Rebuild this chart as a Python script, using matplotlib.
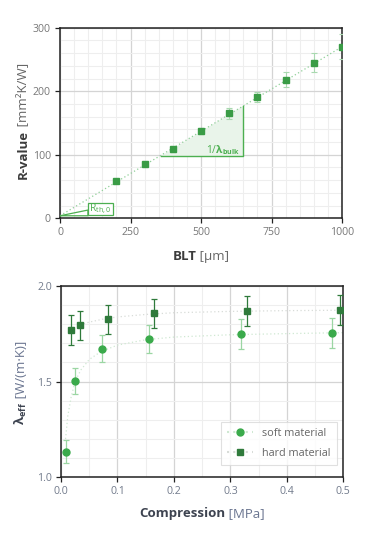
import matplotlib
matplotlib.use("Agg")
import matplotlib.pyplot as plt
from matplotlib.lines import Line2D
from matplotlib.patches import Polygon, Rectangle
from matplotlib.ticker import MultipleLocator
from matplotlib.transforms import IdentityTransform

plt.rcParams['font.family'] = ['Open Sans', 'DejaVu Sans']
plt.rcParams['mathtext.fontset'] = 'custom'
plt.rcParams['mathtext.rm'] = 'Open Sans'
plt.rcParams['mathtext.bf'] = 'Open Sans:bold'
plt.rcParams['mathtext.it'] = 'Open Sans:italic'

# top panel: R-value vs bond line thickness
blt = [200, 300, 400, 500, 600, 700, 800, 900, 1000]
r_value = [59, 86, 109, 137, 165, 191, 218, 245, 270]
r_err = [3, 3, 4, 5, 8, 8, 12, 15, 20]
fit_intercept = 4
fit_slope = 0.266
fit_x = [0, 1000]

# bottom panel: effective conductivity vs compression
soft_p = [0.008, 0.024, 0.073, 0.155, 0.318, 0.480]
soft_lam = [1.134, 1.503, 1.671, 1.72, 1.746, 1.753]
soft_err = [0.06, 0.066, 0.07, 0.073, 0.078, 0.077]
hard_p = [0.017, 0.034, 0.084, 0.165, 0.330, 0.494]
hard_lam = [1.769, 1.793, 1.824, 1.856, 1.868, 1.873]
hard_err = [0.077, 0.077, 0.077, 0.077, 0.077, 0.077]
soft_fit_p = [0.008, 0.012, 0.018, 0.025, 0.035, 0.05, 0.07, 0.1, 0.15, 0.2, 0.3, 0.4, 0.5]
soft_fit_lam = [1.20, 1.32, 1.42, 1.50, 1.56, 1.615, 1.655, 1.69, 1.718, 1.732, 1.744, 1.75, 1.755]
hard_fit_p = [0.034, 0.05, 0.075, 0.1, 0.15, 0.2, 0.3, 0.4, 0.5]
hard_fit_lam = [1.797, 1.81, 1.826, 1.837, 1.85, 1.859, 1.866, 1.87, 1.872]

green = "#3a9c46"
soft_c = "#3aaa4b"
hard_c = "#2f7a3b"
light = "#a9d9b0"
tick_c = "#777777"
frame_c = "#222222"

fig = plt.figure(figsize=(3.75, 5.52), dpi=100)
ax1 = fig.add_axes([0.160, 0.6045, 0.752, 0.3453])
ax2 = fig.add_axes([0.1627, 0.1353, 0.7528, 0.3471])


def style(ax, tc):
    ax.set_axisbelow(True)
    ax.grid(which='major', color='#d4d4d4', lw=0.9)
    ax.grid(which='minor', color='#eeeeee', lw=0.8)
    for s in ax.spines.values():
        s.set_color(frame_c)
        s.set_linewidth(1.1)
    ax.tick_params(which='major', direction='out', length=3.5, width=0.9,
                   color=frame_c, labelsize=7.6, labelcolor=tc, pad=3)
    ax.tick_params(which='minor', length=0)


# ---- top
ax1.errorbar(blt, r_value, yerr=r_err, fmt='s', ms=4.2, color=green,
             ecolor=light, elinewidth=0.8, capsize=2.5, capthick=0.8, zorder=4)
fy = [fit_intercept + fit_slope * x for x in fit_x]
ax1.plot(fit_x, fy, ls=(0, (1, 2)), color="#8fcf98", lw=0.9, zorder=3)

tri_x0, tri_x1, tri_y = 358, 650, 98
ytop = fit_intercept + fit_slope * tri_x1
ax1.add_patch(Polygon([[tri_x0, tri_y], [tri_x1, tri_y], [tri_x1, ytop]],
                      closed=True, fc="#e9f4ea", ec='none', zorder=2))
ax1.plot([tri_x0, tri_x1, tri_x1], [tri_y, tri_y, ytop], color="#4caf50", lw=1.0, zorder=3)
ax1.text(638, 108, r"1/$\mathbf{λ}_{\mathbf{bulk}}$", color="#4caf50", fontsize=7.4,
         ha='right', va='center', zorder=5)

ax1.plot([0, 99, 99, 0, 0], [4, 4, 13, 4, 4], color="#4caf50", lw=0.9, zorder=3)
ax1.add_patch(Rectangle((99, 5), 89, 19, fc='white', ec="#4caf50", lw=0.9, zorder=4))
ax1.text(143.5, 14, r"R$_{\mathrm{th,0}}$", color="#4caf50", fontsize=7.5,
         ha='center', va='center', zorder=5)

ax1.set_xlim(0, 1000)
ax1.set_ylim(0, 300)
ax1.xaxis.set_major_locator(MultipleLocator(250))
ax1.xaxis.set_minor_locator(MultipleLocator(50))
ax1.yaxis.set_major_locator(MultipleLocator(100))
ax1.yaxis.set_minor_locator(MultipleLocator(20))
style(ax1, tick_c)

# ---- bottom
ax2.plot(soft_fit_p, soft_fit_lam, ls=(0, (1, 2)), color="#cfe8d2", lw=0.9, zorder=2)
ax2.plot(hard_fit_p, hard_fit_lam, ls=(0, (1, 2)), color="#d8dcd8", lw=0.9, zorder=2)
ax2.errorbar(soft_p, soft_lam, yerr=soft_err, fmt='o', ms=5, color=soft_c,
             ecolor="#9bd6a3", elinewidth=0.9, capsize=2.5, capthick=0.9, zorder=4)
ax2.errorbar(hard_p, hard_lam, yerr=hard_err, fmt='s', ms=4.6, color=hard_c,
             ecolor=hard_c, elinewidth=0.9, capsize=2.5, capthick=0.9, zorder=4)
ax2.set_xlim(0, 0.5)
ax2.set_ylim(1.0, 2.0)
ax2.xaxis.set_major_locator(MultipleLocator(0.1))
ax2.xaxis.set_minor_locator(MultipleLocator(0.05))
ax2.yaxis.set_major_locator(MultipleLocator(0.5))
ax2.yaxis.set_minor_locator(MultipleLocator(0.1))
style(ax2, "#727b8c")

handles = [
    Line2D([], [], ls=(0, (1, 2)), color="#cfe8d2", marker='o', ms=5,
           mfc=soft_c, mec=soft_c),
    Line2D([], [], ls=(0, (1, 2)), color="#d8dcd8", marker='s', ms=4.6,
           mfc=hard_c, mec=hard_c),
]
leg = ax2.legend(handles, ["soft material", "hard material"], loc='lower right',
                 bbox_to_anchor=(0.997, 0.035), fontsize=7.8, frameon=True,
                 fancybox=False, edgecolor="#d9d9d9", labelcolor="#666666",
                 handlelength=2.4, borderpad=0.6, labelspacing=0.8)
leg.get_frame().set_linewidth(0.8)


# ---- axis labels made of bold + regular parts
def label(parts, x, y, rotation=0):
    r = fig.canvas.get_renderer()
    texts = []
    widths = []
    for s, w, c in parts:
        t = fig.text(0, 0, s, fontsize=9.5, fontweight=w, color=c,
                     transform=IdentityTransform(), ha='left', va='baseline')
        widths.append(t.get_window_extent(r).width)
        texts.append(t)
    pos = -sum(widths) / 2
    for t, w in zip(texts, widths):
        if rotation:
            t.set_rotation(90)
            t.set_rotation_mode('anchor')
            t.set_position((x, y + pos))
        else:
            t.set_position((x + pos, y))
        pos += w


label([("BLT", 'bold', "#3c3c3c"), (" [µm]", 'normal', "#666666")], 201, 292)
label([("R-value", 'bold', "#3c3c3c"), (" [mm²K/W]", 'normal', "#666666")], 26.5, 431, 90)
label([("Compression", 'bold', "#3d4350"), (" [MPa]", 'normal', "#6a7590")], 202, 35)
label([(r"$\mathbf{λ}_{\mathbf{eff}}$", 'bold', "#3d4350"), (" [W/(m·K)]", 'normal', "#6a7590")], 25, 169, 90)

fig.savefig("out.png", dpi=100)
